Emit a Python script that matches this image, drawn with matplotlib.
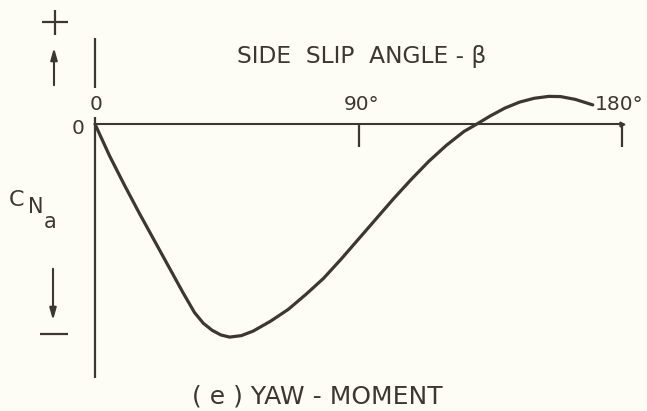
import matplotlib
matplotlib.use("Agg")
import matplotlib.pyplot as plt
from matplotlib.lines import Line2D

# Yaw-moment coefficient versus side slip angle
beta_deg = [0, 2, 5, 10, 15, 20, 25, 30, 34, 37, 40, 43, 46, 50, 54, 60,
            66, 72, 78, 84, 90, 96, 102, 108, 114, 120, 126, 130.4, 135,
            140, 145, 150, 155, 159, 164, 170]
cn_a = [0.0, -0.06, -0.15, -0.285, -0.415, -0.54, -0.665, -0.79, -0.885,
        -0.935, -0.968, -0.99, -1.0, -0.993, -0.972, -0.925, -0.87, -0.80,
        -0.725, -0.635, -0.54, -0.445, -0.35, -0.26, -0.175, -0.10, -0.035,
        0.0, 0.038, 0.075, 0.103, 0.121, 0.13, 0.129, 0.116, 0.09]
x_ticks = [90, 180]
x_tick_labels = ["90°", "180°"]

W, H = 647, 411
INK = "#3b3732"
PAPER = "#fdfdf5"
FONT = ["DejaVu Sans"]

fig = plt.figure(figsize=(W / 100, H / 100), dpi=100, facecolor=PAPER)


def fp(x, y):
    """figure fraction from pixel position (origin top-left)"""
    return (x / W, 1 - y / H)


def stroke(x0, y0, x1, y1, lw=1.6):
    (a, b), (c, d) = fp(x0, y0), fp(x1, y1)
    fig.add_artist(Line2D([a, c], [b, d], color=INK, lw=lw,
                          solid_capstyle="butt"))


ax = fig.add_axes([95 / W, (H - 378) / H, 527 / W, 340 / H])
ax.set_xlim(0, 180)
ax.set_ylim(-1.192, 0.404)
ax.set_facecolor("none")
ax.axis("off")

# axes drawn as plain strokes
axis_kw = dict(color=INK, solid_capstyle="butt", clip_on=False)
ax.plot([0, 0], [0.169, 0.404], lw=1.6, **axis_kw)
ax.plot([0, 0], [-1.192, 0.033], lw=1.6, **axis_kw)
ax.plot([0, 180], [0, 0], lw=1.5, **axis_kw)
ax.plot([180], [0], marker=">", color=INK, ms=3.5, clip_on=False)
for t in x_ticks:
    ax.plot([t, t], [0, -0.108], lw=1.6, **axis_kw)

# curve
ax.plot(beta_deg, cn_a, color=INK, lw=2.3, solid_joinstyle="round",
        solid_capstyle="round", clip_on=False)

# tick labels
fig.text(*fp(96, 105), "0", ha="center", va="center", fontsize=14.5,
         family=FONT, color=INK)
fig.text(*fp(78, 128), "0", ha="center", va="center", fontsize=14.5,
         family=FONT, color=INK)
tick_px = {90: 362, 180: 619}
for t, lab in zip(x_ticks, x_tick_labels):
    fig.text(*fp(tick_px[t], 104), lab, ha="center", va="center",
             fontsize=14.5, family=FONT, color=INK)

# titles
fig.text(*fp(362, 57), "SIDE  SLIP  ANGLE - β", ha="center", va="center",
         fontsize=16.8, family=FONT, color=INK)
fig.text(*fp(317, 396), "( e ) YAW - MOMENT", ha="center", va="center",
         fontsize=18, family=FONT, color=INK)

# y label C_Na
fig.text(*fp(16, 200), "C", ha="center", va="center", fontsize=16,
         family=FONT, color=INK)
fig.text(*fp(36, 207), "N", ha="center", va="center", fontsize=15,
         family=FONT, color=INK)
fig.text(*fp(50, 222), "a", ha="center", va="center", fontsize=15,
         family=FONT, color=INK)

# sign markers and arrows
stroke(42, 22.5, 68, 22.5)
stroke(55, 10, 55, 35)
stroke(40, 334, 68, 334)
ax.annotate("", xy=fp(54, 45), xytext=fp(54, 88), xycoords="figure fraction",
            textcoords="figure fraction",
            arrowprops=dict(arrowstyle="-|>,head_length=0.7,head_width=0.2",
                            color=INK, lw=1.5))
ax.annotate("", xy=fp(53, 323), xytext=fp(53, 266), xycoords="figure fraction",
            textcoords="figure fraction",
            arrowprops=dict(arrowstyle="-|>,head_length=0.7,head_width=0.2",
                            color=INK, lw=1.5))

fig.savefig("out.png", dpi=100, facecolor=PAPER)
